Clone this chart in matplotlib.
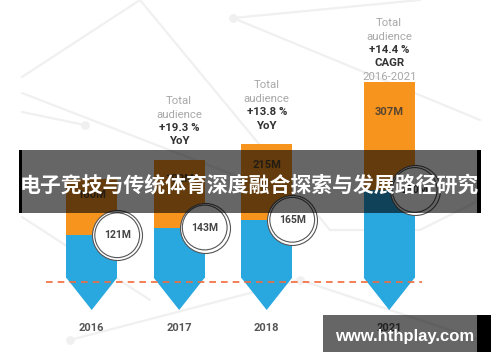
import matplotlib
matplotlib.use('Agg')
import matplotlib.pyplot as plt
from matplotlib.patches import Rectangle, Polygon

# ---------------- data ----------------
years = ['2016', '2017', '2018', '2021']
enthusiasts = [121, 143, 165, 250]          # blue part (millions)
occasional = [160, 192, 215, 307]           # orange part (millions)
enth_labels = ['121M', '143M', '165M', '250M']
occ_labels = ['160M', '192M', '215M', '307M']
note_bars = [1, 2, 3]
note_texts = [
    [('Total', 'normal'), ('audience', 'normal'), ('+19.3 %', 'bold'), ('YoY', 'bold')],
    [('Total', 'normal'), ('audience', 'normal'), ('+13.8 %', 'bold'), ('YoY', 'bold')],
    [('Total', 'normal'), ('audience', 'normal'), ('+14.4 %', 'bold'), ('CAGR', 'bold'),
     ('2016-2021', 'normal')],
]
title = '电子竞技与传统体育深度融合探索与发展路径研究'
watermark = 'www.hthplay.com'

# ---------------- layout ----------------
W, H = 500, 362
PXU = 0.351          # pixels per million
BASE = 277.7         # pixel row of value 0
X0, SLOT = 91.7, 87.5
slot = [0, 1, 2, 3.4]
bw = 51 / SLOT
ORANGE = '#F7941E'
BLUE = '#29A8E0'

fig = plt.figure(figsize=(W / 100, H / 100), dpi=100)
ax = fig.add_axes([0, 0, 1, 1])
ax.set_xlim(-X0 / SLOT, (W - X0) / SLOT)
ax.set_ylim((BASE - H) / PXU, BASE / PXU)
ax.axis('off')

def u(px):
    return px / PXU

# faint background network pattern (decoration)
segs = [((22, 77), (140, 0)), ((140, 0), (330, 230)), ((22, 93), (260, 185)),
        ((85, 125), (22, 112)), ((233, 18), (420, 0)), ((233, 18), (480, 120)),
        ((22, 217), (150, 300)), ((70, 340), (300, 280)), ((300, 280), (480, 340)),
        ((420, 230), (480, 200)), ((330, 230), (420, 230))]
for (x1, y1), (x2, y2) in segs:
    ax.plot([x1 / W, x2 / W], [1 - y1 / H, 1 - y2 / H], transform=ax.transAxes,
            color='#f0f0f0', lw=1.6, zorder=0, solid_capstyle='round')
for (nx, ny) in [(85, 125), (233, 18), (70, 340), (300, 280)]:
    ax.scatter([nx / W], [1 - ny / H], transform=ax.transAxes, s=40,
               color='#f0f0f0', zorder=0, lw=0)

# bars
ax.bar(slot, enthusiasts, width=bw, color=BLUE, zorder=2, lw=0)
totals = [e + o for e, o in zip(enthusiasts, occasional)]
ax.bar(slot, occasional, bottom=enthusiasts, width=bw, color=ORANGE, zorder=2, lw=0)
tip = u(32.3)
for x in slot:
    ax.add_patch(Polygon([(x - bw / 2, 0), (x + bw / 2, 0), (x, -tip)],
                         closed=True, color=BLUE, lw=0, zorder=2))

# dashed baseline
ax.hlines(u(BASE - 281.7), (46 - X0) / SLOT, (422 - X0) / SLOT,
          colors='#F26B3A', linestyles=(0, (4, 3)), lw=1.2, zorder=3)

# orange labels
for x, t, o, lab in zip(slot, totals, occasional, occ_labels):
    ax.text(x, t - 0.28 * o, lab, ha='center', va='center', fontsize=8,
            fontweight='bold', family='Roboto', color='#5a4630', zorder=4)

# circles
cx = [x + bw / 2 for x in slot]
ax.scatter(cx, enthusiasts, s=1296, facecolor='white', edgecolor='#555555',
           lw=0.8, zorder=5)
ax.scatter(cx, enthusiasts, s=1040, facecolor='none', edgecolor='#555555',
           lw=0.8, zorder=5)
for x, e, lab in zip(cx, enthusiasts, enth_labels):
    ax.text(x, e, lab, ha='center', va='center', fontsize=7.5, fontweight='bold',
            family='Roboto', color='#444444', zorder=6)

# growth notes
for i, lines in zip(note_bars, note_texts):
    y0 = totals[i] + u(59)
    for k, (txt, wt) in enumerate(lines):
        ax.text(slot[i], y0 - u(13.4 * k), txt, ha='center', va='center',
                fontsize=8.2, fontweight=wt, family='Roboto',
                color='#333333' if wt == 'bold' else '#a8a8a8', zorder=4)

# year labels
for x, yr in zip(slot, years):
    ax.text(x, u(BASE - 328), yr, ha='center', va='center', fontsize=8,
            fontweight='bold', family='Roboto', color='#555555', zorder=4)

# title banner
ax.add_patch(Rectangle((22 / W, 1 - 212.7 / H), (477 - 22) / W, 62.7 / H,
                       transform=ax.transAxes, color='black', alpha=0.6, lw=0, zorder=10))
for (a, b) in [(19, 22), (477, 481)]:
    ax.add_patch(Rectangle((a / W, 1 - 212.7 / H), (b - a) / W, 62.7 / H,
                           transform=ax.transAxes, color='black', lw=0, zorder=10))
ax.text(249.5 / W, 1 - 185 / H, title, transform=ax.transAxes, ha='center',
        va='center', fontsize=15, fontweight='bold', color='white',
        family=['Noto Sans CJK SC', 'DejaVu Sans'], zorder=11)

# watermark box
ax.add_patch(Rectangle((323 / W, 1 - 352 / H), (477 - 323) / W, 37 / H,
                       transform=ax.transAxes, color='black', alpha=0.6, lw=0, zorder=10))
ax.add_patch(Rectangle((477 / W, 1 - 352 / H), 14 / W, 37 / H,
                       transform=ax.transAxes, color='black', lw=0, zorder=10))
ax.text(405 / W, 1 - 336 / H, watermark, transform=ax.transAxes, ha='center',
        va='center', fontsize=12, fontweight='bold', color='white',
        family='Liberation Sans', zorder=11)

fig.savefig('out.png', dpi=100, facecolor='white')
